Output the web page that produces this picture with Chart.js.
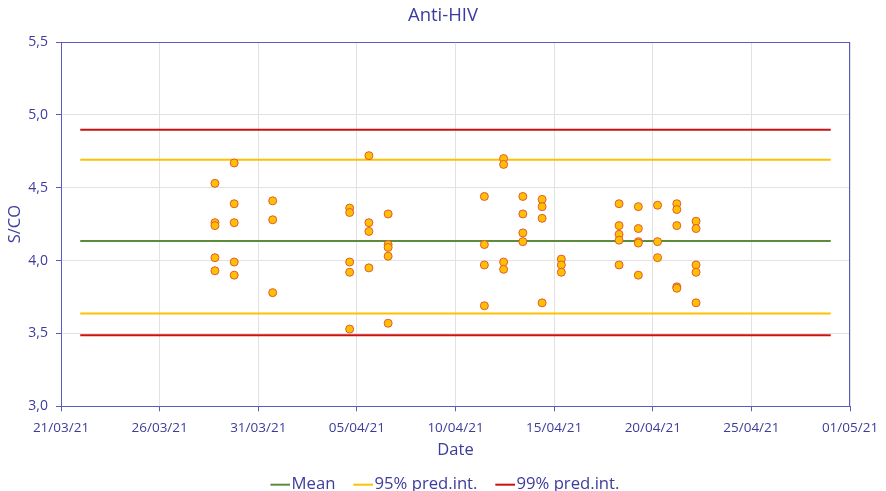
<!DOCTYPE html>
<html>
<head>
<meta charset="utf-8">
<script src="https://cdn.jsdelivr.net/npm/chart.js@4/dist/chart.umd.min.js"></script>
<style>
html,body{margin:0;padding:0;background:#ffffff;}
#wrap{width:886px;height:491px;}
</style>
</head>
<body>
<div id="wrap"><canvas id="c" width="886" height="491"></canvas></div>
<script>
// ---- chart texts ----
const chartTitle = 'Anti-HIV';
const xAxisTitle = 'Date';
const yAxisTitle = 'S/CO';
const seriesNames = ['Mean', '95% pred.int.', '99% pred.int.'];

// ---- x axis (dates, dd/mm/yy) ----
const xAxisStart = '21/03/21';
const xAxisEnd = '01/05/21';
const xTickLabels = ['21/03/21', '26/03/21', '31/03/21', '05/04/21', '10/04/21',
                     '15/04/21', '20/04/21', '25/04/21', '01/05/21'];

// ---- y axis ----
const yMin = 3.0, yMax = 5.5, yStep = 0.5;

// ---- measurements (date, S/CO) ----
const measDates = [
  '29/03/21','29/03/21','29/03/21','29/03/21','29/03/21',
  '30/03/21','30/03/21','30/03/21','30/03/21','30/03/21',
  '01/04/21','01/04/21','01/04/21',
  '05/04/21','05/04/21','05/04/21','05/04/21','05/04/21',
  '06/04/21','06/04/21','06/04/21','06/04/21',
  '07/04/21','07/04/21','07/04/21','07/04/21','07/04/21',
  '12/04/21','12/04/21','12/04/21','12/04/21',
  '13/04/21','13/04/21','13/04/21','13/04/21',
  '14/04/21','14/04/21','14/04/21','14/04/21',
  '15/04/21','15/04/21','15/04/21','15/04/21',
  '16/04/21','16/04/21','16/04/21',
  '19/04/21','19/04/21','19/04/21','19/04/21','19/04/21',
  '20/04/21','20/04/21','20/04/21','20/04/21','20/04/21',
  '21/04/21','21/04/21','21/04/21',
  '22/04/21','22/04/21','22/04/21','22/04/21','22/04/21',
  '23/04/21','23/04/21','23/04/21','23/04/21','23/04/21'
];
const measValues = [
  4.53, 4.26, 4.24, 4.02, 3.93,
  4.67, 4.39, 4.26, 3.99, 3.90,
  4.41, 4.28, 3.78,
  4.36, 4.33, 3.99, 3.92, 3.53,
  4.72, 4.26, 4.20, 3.95,
  4.32, 4.11, 4.09, 4.03, 3.57,
  4.44, 4.11, 3.97, 3.69,
  4.70, 4.66, 3.99, 3.94,
  4.44, 4.32, 4.19, 4.13,
  4.42, 4.37, 4.29, 3.71,
  4.01, 3.97, 3.92,
  4.39, 4.24, 4.18, 4.14, 3.97,
  4.37, 4.22, 4.13, 4.12, 3.90,
  4.38, 4.13, 4.02,
  4.39, 4.35, 4.24, 3.82, 3.81,
  4.27, 4.22, 3.97, 3.92, 3.71
];

// ---- control limits ----
const limitFrom = '22/03/21';
const limitTo = '30/04/21';
const meanValue = 4.135;
const pred95 = [3.636, 4.692];
const pred99 = [3.488, 4.898];

// ---- styles ----
const textColor = '#3c3c9c';
const axisColor = '#5a5abf';
const gridColor = '#e2e2e2';
const meanColor = '#5b8b3c';
const p95Color = '#ffc000';
const p99Color = '#cc1010';
const pointFill = '#ffc000';
const pointEdge = '#e25a32';
const fontFamily = '"Open Sans", "Liberation Sans", Arial, sans-serif';
const legendFont = 16.7;
const legendPad = 14;

// ---- helpers ----
function dayNumber(s) {
  const [d, m, y] = s.split('/').map(Number);
  return Date.UTC(2000 + y, m - 1, d) / 86400000;
}
const day0 = dayNumber(xAxisStart);
const toX = s => dayNumber(s) - day0;
const xMaxVal = toX(xAxisEnd);
const xTickValues = xTickLabels.map((_, i) => i * xMaxVal / (xTickLabels.length - 1));

const points = measDates.map((d, i) => ({x: toX(d), y: measValues[i]}));
const hline = v => [{x: toX(limitFrom), y: v}, {x: toX(limitTo), y: v}];

// legend marker: short line that ends right before the label text
const halfFont = legendFont / 2;
const markBox = 18 - legendPad + 21 - halfFont;
const markW = Math.round(markBox + 2 * halfFont - 2);
function legendMark(color) {
  const c = document.createElement('canvas');
  c.width = markW; c.height = 4;
  const g = c.getContext('2d');
  g.strokeStyle = color; g.lineWidth = 2;
  g.beginPath(); g.moveTo(markW - 20, 2); g.lineTo(markW, 2); g.stroke();
  return c;
}

const lineDs = (label, data, color, inLegend) => ({
  type: 'line', label, data, borderColor: color, backgroundColor: color,
  borderWidth: 2, pointRadius: 0, pointHoverRadius: 0, fill: false, tension: 0,
  inLegend, legendMark: legendMark(color)
});

const frameBorder = {
  id: 'frameBorder',
  afterDraw(chart) {
    const {ctx, chartArea: a} = chart;
    ctx.save();
    ctx.strokeStyle = axisColor; ctx.lineWidth = 1;
    ctx.beginPath();
    ctx.moveTo(a.left, a.top + 0.5); ctx.lineTo(a.right, a.top + 0.5);
    ctx.moveTo(a.right - 0.5, a.top); ctx.lineTo(a.right - 0.5, a.bottom);
    ctx.stroke();
    ctx.restore();
  }
};

new Chart(document.getElementById('c'), {
  data: {
    datasets: [
      { type: 'scatter', label: 'points', data: points, pointRadius: 4, pointHoverRadius: 4,
        pointBackgroundColor: pointFill, pointBorderColor: pointEdge, pointBorderWidth: 1,
        showLine: false, inLegend: false },
      lineDs(seriesNames[0], hline(meanValue), meanColor, true),
      lineDs(seriesNames[1], hline(pred95[0]), p95Color, true),
      lineDs(seriesNames[1], hline(pred95[1]), p95Color, false),
      lineDs(seriesNames[2], hline(pred99[0]), p99Color, true),
      lineDs(seriesNames[2], hline(pred99[1]), p99Color, false)
    ]
  },
  options: {
    responsive: false, animation: false, devicePixelRatio: 1,
    layout: { padding: { left: 0, right: 0, top: 0, bottom: -12 } },
    scales: {
      x: {
        type: 'linear', min: 0, max: xMaxVal,
        afterBuildTicks: s => { s.ticks = xTickValues.map(v => ({value: v})); },
        afterFit: s => { s.paddingRight = 36; },
        ticks: {
          callback: (v, i) => xTickLabels[i],
          color: textColor, font: { family: fontFamily, size: 13.5 }, padding: 9,
          maxRotation: 0, autoSkip: false
        },
        grid: { color: gridColor, tickColor: axisColor, tickLength: 5, drawTicks: true },
        border: { color: axisColor, width: 1 },
        title: { display: true, text: xAxisTitle, color: textColor,
                 font: { family: fontFamily, size: 16.5 }, padding: { top: -5, bottom: 2 } }
      },
      y: {
        type: 'linear', min: yMin, max: yMax,
        ticks: {
          stepSize: yStep,
          callback: v => v.toFixed(1).replace('.', ','),
          color: textColor, font: { family: fontFamily, size: 14 }, padding: 8
        },
        grid: { color: gridColor, tickColor: axisColor, tickLength: 5 },
        border: { color: axisColor, width: 1 },
        title: { display: true, text: yAxisTitle, color: textColor,
                 font: { family: fontFamily, size: 16.5 }, padding: { top: 5, bottom: 4 } },
        afterFit: s => { s.width = 61; }
      }
    },
    plugins: {
      title: { display: true, text: chartTitle, color: textColor,
               font: { family: fontFamily, size: 18.5, weight: 'normal' },
               padding: { top: 5, bottom: 14.8 } },
      legend: {
        position: 'bottom',
        labels: {
          usePointStyle: true, pointStyleWidth: markBox, boxHeight: 4,
          color: textColor, font: { family: fontFamily, size: legendFont }, padding: legendPad,
          generateLabels: chart => Chart.defaults.plugins.legend.labels.generateLabels(chart)
            .map(it => Object.assign(it, { pointStyle: chart.data.datasets[it.datasetIndex].legendMark })),
          filter: (it, data) => data.datasets[it.datasetIndex].inLegend === true
        }
      },
      tooltip: { enabled: false }
    }
  },
  plugins: [frameBorder]
});
</script>
</body>
</html>
